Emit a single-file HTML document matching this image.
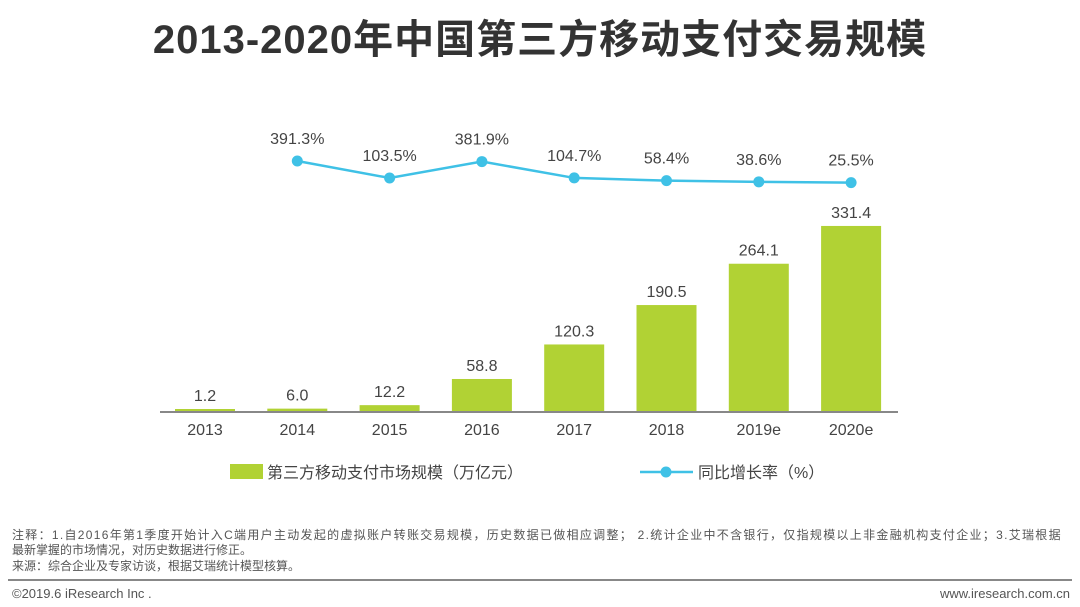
<!DOCTYPE html>
<html><head><meta charset="utf-8">
<style>
body{margin:0;width:1080px;height:607px;background:#fff;overflow:hidden;font-family:"Liberation Sans","Noto Sans CJK SC",sans-serif;}
#title{position:absolute;top:7px;left:0;width:1080px;text-align:center;font-size:40px;font-weight:bold;color:#333;letter-spacing:1px}
.note{position:absolute;left:12px;font-size:12px;color:#555;line-height:15px;width:1066px;white-space:nowrap}
</style></head><body>
<div id="title">2013-2020年中国第三方移动支付交易规模</div>
<svg width="1080" height="607" style="position:absolute;left:0;top:0" id="chart"></svg>
<div class="note" style="top:528px"><span style="letter-spacing:1.3px">注释：1.自2016年第1季度开始计入C端用户主动发起的虚拟账户转账交易规模，历史数据已做相应调整； 2.统计企业中不含银行，仅指规模以上非金融机构支付企业；3.艾瑞根据</span><br>最新掌握的市场情况，对历史数据进行修正。</div>
<div class="note" style="top:559px">来源：综合企业及专家访谈，根据艾瑞统计模型核算。</div>
<div style="position:absolute;left:8px;top:579px;width:1064px;height:2px;background:#888"></div>
<div class="note" style="top:586px;font-size:13px">©2019.6 iResearch Inc .</div>
<div style="position:absolute;right:10px;top:586px;font-size:13px;color:#555">www.iresearch.com.cn</div>
<script>
const categories=["2013","2014","2015","2016","2017","2018","2019e","2020e"];
const barValues=[1.2,6.0,12.2,58.8,120.3,190.5,264.1,331.4];
const barLabels=["1.2","6.0","12.2","58.8","120.3","190.5","264.1","331.4"];
const growthValues=[null,391.3,103.5,381.9,104.7,58.4,38.6,25.5];
const growthLabels=["","391.3%","103.5%","381.9%","104.7%","58.4%","38.6%","25.5%"];
const svg=document.getElementById('chart');
const NS='http://www.w3.org/2000/svg';
function mk(t,a){const e=document.createElementNS(NS,t);for(const k in a)e.setAttribute(k,a[k]);svg.appendChild(e);return e;}
const x=i=>205+i*92.3;
const yb=v=>Math.min(412-v*0.5614,409);
const yl=v=>184.1-v*0.059;
const font='"Liberation Sans","Noto Sans CJK SC",sans-serif';
categories.forEach((c,i)=>{
  const r=mk('rect',{x:x(i)-30,y:yb(barValues[i]),width:60,height:412-yb(barValues[i]),fill:'#b1d234'});
  
  
  const t=mk('text',{x:x(i),y:yb(barValues[i])-8,'text-anchor':'middle','font-size':16,fill:'#444','font-family':font});
  t.textContent=barLabels[i];
  
  
  const xt=mk('text',{x:x(i),y:435,'text-anchor':'middle','font-size':16,fill:'#444','font-family':font});
  xt.textContent=c;
  
  
});
const ax=mk('line',{x1:160,x2:898,y1:412,y2:412,stroke:'#888','stroke-width':2});


let pts=[];
growthValues.forEach((v,i)=>{if(v!==null)pts.push(x(i)+','+yl(v));});
const pl=mk('polyline',{points:pts.join(' '),fill:'none',stroke:'#3fc1e6','stroke-width':2.5});


growthValues.forEach((v,i)=>{if(v===null)return;
  const c=mk('circle',{cx:x(i),cy:yl(v),r:5.5,fill:'#3fc1e6'});
  
  
  const t=mk('text',{x:x(i),y:yl(v)-17,'text-anchor':'middle','font-size':16,fill:'#444','font-family':font});
  t.textContent=growthLabels[i];
  
  
});
const lg1=mk('rect',{x:230,y:464,width:33,height:15,fill:'#b1d234'});


const lt1=mk('text',{x:267,y:478,'font-size':16,fill:'#444','font-family':font});
lt1.textContent='第三方移动支付市场规模（万亿元）';


const lg2=mk('line',{x1:640,x2:693,y1:472,y2:472,stroke:'#3fc1e6','stroke-width':2.5});


const lg3=mk('circle',{cx:666,cy:472,r:5.5,fill:'#3fc1e6'});


const lt2=mk('text',{x:698,y:478,'font-size':16,fill:'#444','font-family':font});
lt2.textContent='同比增长率（%）';


</script>
</body></html>
